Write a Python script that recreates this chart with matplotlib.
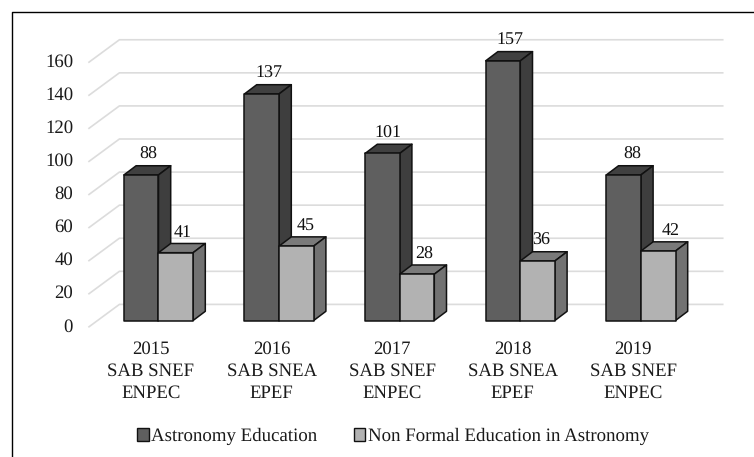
# -*- coding: utf-8 -*-
import matplotlib
matplotlib.use('Agg')
import matplotlib.pyplot as plt
from matplotlib.patches import Polygon, Patch

labels = ['2015\nSAB SNEF\nENPEC', '2016\nSAB SNEA\nEPEF', '2017\nSAB SNEF\nENPEC',
          '2018\nSAB SNEA\nEPEF', '2019\nSAB SNEF\nENPEC']
astronomy = [88, 137, 101, 157, 88]
non_formal = [41, 45, 28, 36, 42]
yticks = [0, 20, 40, 60, 80, 100, 120, 140, 160]
series_names = ['Astronomy Education', 'Non Formal Education in Astronomy']

plt.rcParams['font.family'] = ['Liberation Serif', 'DejaVu Serif']
plt.rcParams['text.hinting'] = 'no_hinting'

W, H = 754, 457
# pixel scale of the picture
px_x = 120.6     # px per category
px_y = 1.654     # px per value unit
x0_px = 158.5    # category 0
y0_px = 320.5    # value 0

# data labels don't sit at the same spot on every bar (px right of bar centre)
nudge_a = [7, 7.5, 6, 7, 8.5]
nudge_n = [7, 9, 7, 4, 12]

fig = plt.figure(figsize=(W / 100, H / 100), dpi=100)
ax = fig.add_axes([0, 0, 1, 1])
ax.set_xlim(-x0_px / px_x, (W - x0_px) / px_x)
ax.set_ylim(-(H - y0_px) / px_y, y0_px / px_y)
ax.axis('off')

bar_w = 34.6 / px_x
dx = 12.2 / px_x
dy = 9.2 / px_y


def bar3d(x, w, v, front, top, side):
    pts = [
        ([(x, v), (x + dx, v + dy), (x + w + dx, v + dy), (x + w, v)], top),
        ([(x + w, 0), (x + w + dx, dy), (x + w + dx, v + dy), (x + w, v)], side),
        ([(x, 0), (x + w, 0), (x + w, v), (x, v)], front),
    ]
    for xy, c in pts:
        ax.add_patch(Polygon(xy, closed=True, facecolor=c, edgecolor='#111111',
                             linewidth=1.1, joinstyle='round', zorder=3))


# back wall grid + diagonal on the left
grid_left = (119.4 - x0_px) / px_x
grid_right = (722.7 - x0_px) / px_x
diag_left = (89 - x0_px) / px_x
back_off = 16.1 / px_y
front_off = -6.3 / px_y
for t in yticks:
    ax.plot([diag_left, grid_left, grid_right], [t + front_off, t + back_off, t + back_off],
            color='#dcdcdc', lw=1.2, zorder=1, solid_joinstyle='miter')
    ax.text((73 - x0_px) / px_x, t + front_off, str(t), ha='right', va='center',
            fontsize=13.5, color='#1a1a1a')

for i in range(len(labels)):
    bar3d(i - bar_w, bar_w, astronomy[i], '#5f5f5f', '#404040', '#3e3e3e')
    ax.text(i - bar_w / 2 + nudge_a[i] / px_x, astronomy[i] + 20 / px_y, str(astronomy[i]),
            ha='center', va='center', fontsize=13, color='#111111', zorder=4)
    bar3d(i, bar_w, non_formal[i], '#b2b2b2', '#7a7a7a', '#727272')
    ax.text(i + bar_w / 2 + nudge_n[i] / px_x, non_formal[i] + 20 / px_y, str(non_formal[i]),
            ha='center', va='center', fontsize=13, color='#111111', zorder=4)
    ax.text(i - 7.5 / px_x, -(371 - y0_px) / px_y, labels[i], ha='center', va='center',
            fontsize=13.5, color='#1a1a1a', linespacing=1.38)

# border only on top and left
ax.plot([11.5 / W, 11.5 / W, 1], [0, 1 - 11.5 / H, 1 - 11.5 / H], transform=ax.transAxes,
        color='black', lw=1.0, zorder=5, clip_on=False)

handles = [Patch(facecolor='#5f5f5f', edgecolor='#111111', linewidth=1.0),
           Patch(facecolor='#b2b2b2', edgecolor='#111111', linewidth=1.0)]
fig.legend(handles, series_names, loc='center', bbox_to_anchor=(393 / W, 1 - 436.5 / H),
           ncol=2, frameon=False, fontsize=13.6, handlelength=0.62, handleheight=0.62,
           handletextpad=0.15, columnspacing=1.9, borderpad=0, labelcolor='#1a1a1a')

fig.savefig('out.png', dpi=100)
